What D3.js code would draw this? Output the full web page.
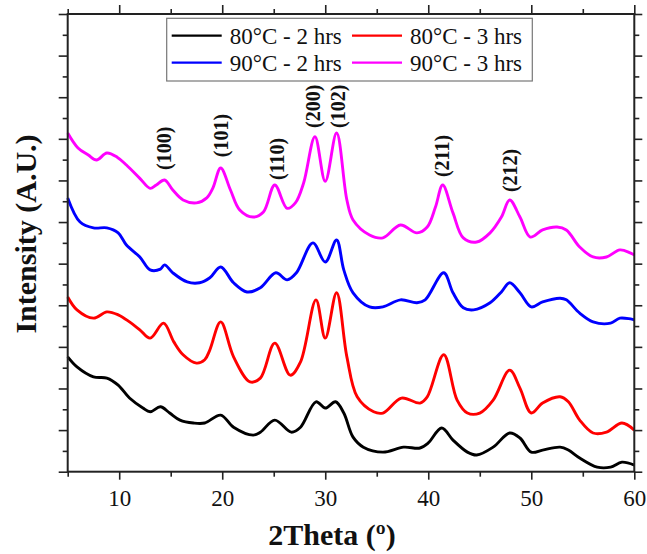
<!DOCTYPE html>
<html>
<head>
<meta charset="utf-8">
<script src="https://cdn.jsdelivr.net/npm/d3@7"></script>
<style>
  body { margin: 0; background: #fff; }
  text { font-family: "Liberation Serif", "Times New Roman", serif; }
</style>
</head>
<body>
<svg class="xrd-chart"></svg>
<script>
// 2Theta (deg), intensity (stacked, arbitrary units)
var series80_2h = [[5.0,2.76],[5.9,2.52],[7.5,2.28],[8.8,2.25],[9.9,2.08],[11.0,1.77],[12.3,1.53],[13.0,1.44],
  [14.0,1.56],[14.9,1.41],[15.9,1.24],[17.2,1.17],[18.3,1.17],[19.85,1.36],[21.1,1.07],[23.0,0.88],[23.7,0.95],
  [25.1,1.24],[26.7,0.95],[27.6,1.07],[29.1,1.68],[30.0,1.53],[31.0,1.68],[31.8,1.41],[32.7,0.83],[33.7,0.59],
  [35.6,0.47],[37.6,0.59],[39.2,0.57],[40.0,0.69],[41.3,1.05],[42.4,0.76],[43.8,0.47],[44.7,0.40],[46.3,0.59],
  [47.9,0.93],[48.9,0.81],[50.0,0.47],[51.1,0.52],[52.8,0.59],[53.6,0.52],[54.7,0.33],[56.4,0.11],[57.7,0.11],
  [58.8,0.23],[60.0,0.16]];
var series80_3h = [[5.0,4.20],[5.9,3.89],[7.5,3.69],[8.8,3.84],[9.9,3.77],[11.0,3.60],[12.0,3.41],[13.0,3.21],
  [14.3,3.57],[15.3,3.12],[16.2,2.81],[17.5,2.61],[18.3,2.69],[18.8,2.93],[19.85,3.60],[21.1,2.76],[22.7,2.16],
  [23.7,2.25],[25.1,3.09],[26.6,2.32],[27.6,2.64],[29.1,4.13],[30.0,3.21],[31.1,4.30],[32.1,2.76],[33.1,1.80],
  [34.7,1.44],[35.6,1.41],[37.4,1.77],[39.2,1.65],[39.9,1.80],[41.5,2.81],[42.8,1.72],[43.8,1.41],[45.0,1.41],
  [46.3,1.72],[47.9,2.44],[48.9,2.01],[50.0,1.41],[51.1,1.65],[52.8,1.80],[53.6,1.68],[54.7,1.24],[56.0,0.93],
  [57.3,0.95],[58.8,1.17],[60.0,1.00]];
var series90_2h = [[5.0,6.58],[6.2,6.00],[7.5,5.86],[8.8,5.86],[9.9,5.74],[10.7,5.45],[12.0,5.16],[13.0,4.85],
  [14.0,4.87],[14.4,4.97],[15.2,4.78],[16.6,4.56],[17.8,4.54],[18.8,4.66],[19.85,4.92],[21.1,4.54],[22.4,4.32],
  [23.7,4.42],[25.2,4.78],[26.3,4.61],[27.2,4.78],[28.8,5.50],[30.0,5.04],[31.1,5.57],[31.8,4.85],[32.7,4.30],
  [34.3,3.96],[35.6,3.96],[37.3,4.13],[38.9,4.06],[39.7,4.13],[41.5,4.78],[42.4,4.30],[43.4,3.94],[44.4,3.89],
  [46.0,4.06],[47.1,4.32],[47.9,4.54],[48.9,4.30],[50.0,3.96],[51.1,4.08],[52.8,4.17],[53.4,4.13],[54.7,3.81],
  [56.0,3.60],[57.7,3.57],[58.6,3.69],[60.0,3.65]];
var series90_3h = [[5.0,8.14],[6.0,7.78],[7.0,7.61],[7.8,7.49],[8.8,7.66],[9.8,7.56],[10.7,7.37],[12.0,7.05],
  [13.0,6.81],[13.6,6.89],[14.4,7.01],[15.2,6.77],[16.2,6.53],[17.5,6.46],[18.5,6.58],[19.1,6.82],[19.85,7.30],
  [20.8,6.77],[21.7,6.29],[23.0,6.12],[24.0,6.24],[25.1,6.89],[26.3,6.33],[27.1,6.46],[27.9,6.94],[29.0,8.05],
  [30.0,6.98],[31.1,8.14],[32.1,6.53],[32.7,6.05],[34.3,5.69],[35.6,5.62],[37.3,5.93],[38.9,5.74],[39.9,5.88],
  [40.7,6.36],[41.4,6.89],[42.4,6.22],[43.4,5.62],[44.7,5.52],[46.0,5.74],[47.1,6.12],[47.9,6.53],[48.9,6.12],
  [49.9,5.64],[51.1,5.81],[52.5,5.88],[53.4,5.81],[54.7,5.40],[56.0,5.16],[57.3,5.16],[58.6,5.33],[59.6,5.26],
  [60.0,5.21]];

var seriesNames = ["80°C - 2 hrs", "80°C - 3 hrs", "90°C - 2 hrs", "90°C - 3 hrs"];
var seriesColors = ["#000000", "#ff0000", "#0000ff", "#ff00ff"];

var peakNames = ["(100)", "(101)", "(110)", "(200)", "(102)", "(211)", "(212)"];
var peakPos   = [14.35, 19.9, 25.3, 28.8, 31.2, 41.3, 47.9];
var peakLevel = [7.25, 7.56, 7.01, 8.26, 8.26, 7.08, 6.72];

var xTickLabels = [10, 20, 30, 40, 50, 60];

var svgWidth = 647, svgHeight = 554;
var margin = { top: 14, right: 12.7, bottom: 82.3, left: 67.7 };
var width = svgWidth - margin.left - margin.right;
var height = svgHeight - margin.top - margin.bottom;

var svg = d3.select(".xrd-chart")
    .attr("width", svgWidth)
    .attr("height", svgHeight);

var g = svg.append("g")
    .attr("transform", "translate(" + margin.left + "," + margin.top + ")");

var x = d3.scaleLinear().domain([5, 60]).range([0, width]);
var y = d3.scaleLinear().domain([0, 11]).range([height, 0]);

var axisColor = "#222";
var xMinor = d3.range(5, 61, 5).filter(function(d) { return d % 10 !== 0; });
var yMajor = d3.range(0, 12, 1);
var yMinor = d3.range(0.5, 11, 1);

function styleAxis(sel) {
    sel.select(".domain").remove();
    sel.selectAll("line").attr("stroke", axisColor).attr("stroke-width", 1.6);
    sel.selectAll("text").remove();
}

// minor ticks
g.append("g").attr("transform", "translate(0," + height + ")")
    .call(d3.axisBottom(x).tickValues(xMinor).tickSize(5)).call(styleAxis);
g.append("g").call(d3.axisTop(x).tickValues(xMinor).tickSize(5)).call(styleAxis);
g.append("g").call(d3.axisLeft(y).tickValues(yMinor).tickSize(5)).call(styleAxis);
g.append("g").attr("transform", "translate(" + width + ",0)")
    .call(d3.axisRight(y).tickValues(yMinor).tickSize(5)).call(styleAxis);

// major ticks
g.append("g").call(d3.axisTop(x).tickValues(xTickLabels).tickSize(9)).call(styleAxis);
g.append("g").call(d3.axisLeft(y).tickValues(yMajor).tickSize(9)).call(styleAxis);
g.append("g").attr("transform", "translate(" + width + ",0)")
    .call(d3.axisRight(y).tickValues(yMajor).tickSize(8)).call(styleAxis);

var xAxis = g.append("g")
    .attr("transform", "translate(0," + height + ")")
    .call(d3.axisBottom(x).tickValues(xTickLabels).tickSize(8).tickPadding(10));
xAxis.select(".domain").remove();
xAxis.selectAll("line").attr("stroke", axisColor).attr("stroke-width", 1.6);
xAxis.selectAll("text")
    .attr("fill", "#111")
    .style("font-family", "'Liberation Serif', serif")
    .style("font-size", "23px");

// curves
var allSeries = [series80_2h, series80_3h, series90_2h, series90_3h];
var line = d3.line()
    .x(function(d) { return x(d[0]); })
    .y(function(d) { return y(d[1]); })
    .curve(d3.curveCatmullRom.alpha(0.5));

g.selectAll(".curve")
    .data(allSeries)
    .enter()
    .append("path")
    .attr("class", "curve")
    .attr("fill", "none")
    .attr("stroke", function(d, i) { return seriesColors[i]; })
    .attr("stroke-width", 2.9)
    .attr("stroke-linejoin", "round")
    .attr("d", line);

// frame
g.append("rect")
    .attr("width", width)
    .attr("height", height)
    .attr("fill", "none")
    .attr("stroke", axisColor)
    .attr("stroke-width", 2);

// peak labels
g.selectAll(".peak")
    .data(peakNames)
    .enter()
    .append("text")
    .attr("class", "peak")
    .attr("transform", function(d, i) {
        return "translate(" + x(peakPos[i]) + "," + y(peakLevel[i]) + ") rotate(-90)";
    })
    .attr("dominant-baseline", "central")
    .attr("text-anchor", "start")
    .attr("font-weight", "bold")
    .attr("font-size", "20px")
    .attr("fill", "#111")
    .text(function(d) { return d; });

// legend
var legend = svg.append("g").attr("transform", "translate(166.7,18.3)");
legend.append("rect")
    .attr("width", 365.6)
    .attr("height", 62.7)
    .attr("fill", "#fff")
    .attr("stroke", "#777")
    .attr("stroke-width", 1.2);

var legendOrder = [0, 1, 2, 3];
var item = legend.selectAll(".item")
    .data(legendOrder)
    .enter()
    .append("g")
    .attr("class", "item")
    .attr("transform", function(d, i) {
        return "translate(" + (i % 2 === 0 ? 5 : 185.3) + "," + (i < 2 ? 17.4 : 44.4) + ")";
    });
item.append("line")
    .attr("x1", 0).attr("x2", 50)
    .attr("stroke", function(d) { return seriesColors[d]; })
    .attr("stroke-width", 2.2);
item.append("text")
    .attr("x", 58)
    .attr("y", 8)
    .attr("font-size", "23px")
    .attr("fill", "#111")
    .text(function(d) { return seriesNames[d]; });

// axis titles
svg.append("text")
    .attr("x", 332)
    .attr("y", 545)
    .attr("text-anchor", "middle")
    .attr("font-weight", "bold")
    .attr("font-size", "30px")
    .attr("fill", "#111")
    .text("2Theta (º)");

svg.append("text")
    .attr("transform", "translate(36,234) rotate(-90)")
    .attr("text-anchor", "middle")
    .attr("font-weight", "bold")
    .attr("font-size", "30px")
    .attr("fill", "#111")
    .text("Intensity (A.U.)");
</script>
</body>
</html>
